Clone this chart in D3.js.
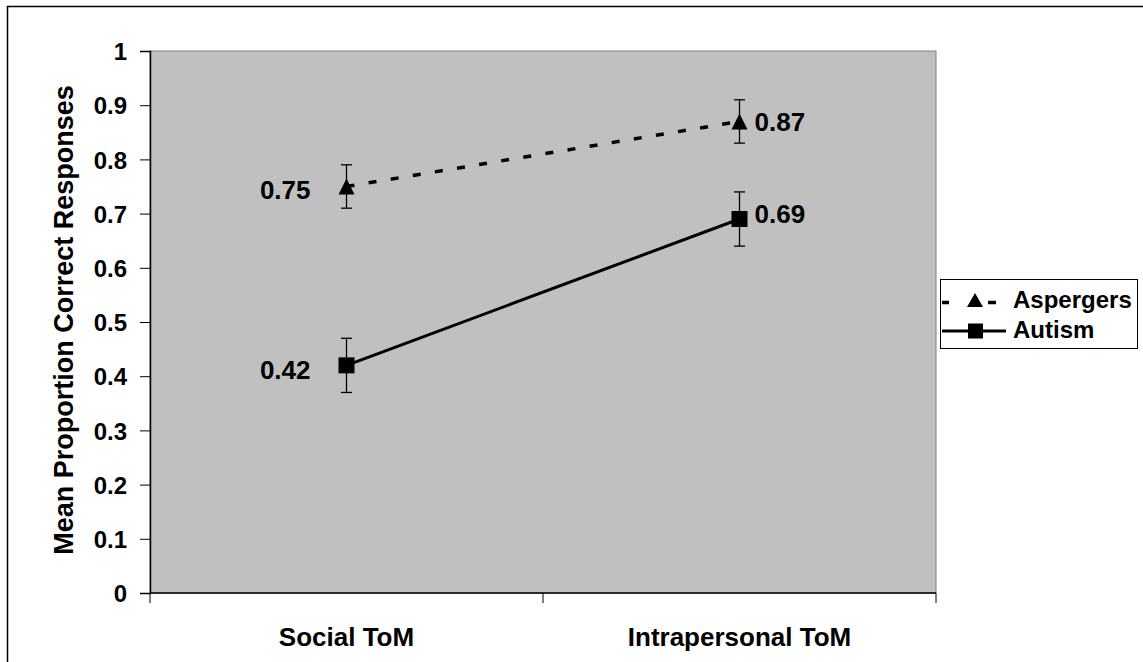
<!DOCTYPE html>
<html><head><meta charset="utf-8">
<script src="https://cdn.jsdelivr.net/npm/d3@7"></script>
<style>body{margin:0;background:#fff}svg{display:block;font-family:Arial,"Liberation Sans",sans-serif;font-weight:bold}</style>
</head><body>
<svg id="c" width="1143" height="662"></svg>
<script>
const categories = ["Social ToM", "Intrapersonal ToM"];
const aspergers = [0.75, 0.87];
const aspergersErr = [0.04, 0.04];
const autism = [0.42, 0.69];
const autismErr = [0.05, 0.05];
const yTicks = [0,0.1,0.2,0.3,0.4,0.5,0.6,0.7,0.8,0.9,1];
const yTickLabels = ["0","0.1","0.2","0.3","0.4","0.5","0.6","0.7","0.8","0.9","1"];

const FONT = "Arial,'Liberation Sans',sans-serif";
const svg = d3.select("#c");
svg.append("rect").attr("x",7.5).attr("y",6.5).attr("width",1150).attr("height",700)
  .attr("fill","#fff").attr("stroke","#000").attr("stroke-width",1.5);

const L=150,R=936,T=51,B=593;
const x = d3.scaleBand().domain(categories).range([L,R]);
const y = d3.scaleLinear().domain([0,1]).range([B,T]);
const cx = d => x(d)+x.bandwidth()/2;

svg.append("rect").attr("x",L).attr("y",T).attr("width",R-L).attr("height",B-T)
  .attr("fill","#c0c0c0").attr("stroke","#808080").attr("stroke-width",1);

// y axis
const ya = svg.append("g").attr("transform",`translate(${L},0)`)
  .call(d3.axisLeft(y).tickValues(yTicks).tickFormat((d,i)=>yTickLabels[i]).tickSize(10).tickPadding(13));
ya.attr("font-size",null).attr("font-family",null);
ya.select(".domain").attr("stroke","#000").attr("stroke-width",1.5);
ya.selectAll("line").attr("stroke","#000").attr("stroke-width",1);
ya.selectAll("text").attr("font-size",24).attr("font-weight","bold").attr("font-family",FONT).attr("fill","#000").attr("dy","0.36em");

// x axis
svg.append("line").attr("x1",L).attr("x2",R).attr("y1",B).attr("y2",B).attr("stroke","#000").attr("stroke-width",1.5);
const xt = [L, ...categories.slice(1).map(c=>x(c)), R];
svg.selectAll(".xt").data(xt).enter().append("line")
  .attr("x1",d=>d).attr("x2",d=>d).attr("y1",B).attr("y2",B+10).attr("stroke","#000");
svg.selectAll(".xl").data(categories).enter().append("text")
  .attr("x",d=>cx(d)).attr("y",646).attr("text-anchor","middle").attr("font-size",26).text(d=>d);

svg.append("text").attr("transform",`translate(73,${(T+B)/2-2}) rotate(-90)`)
  .attr("text-anchor","middle").attr("font-size",27).text("Mean Proportion Correct Responses");

const line = d3.line().x((d,i)=>cx(categories[i])).y(d=>y(d));
svg.append("path").datum(aspergers).attr("d",line).attr("fill","none").attr("stroke","#000")
  .attr("stroke-width",3.5).attr("stroke-dasharray","8,14.4");
svg.append("path").datum(autism).attr("d",line).attr("fill","none").attr("stroke","#000").attr("stroke-width",3);

function errbars(vals, errs){
  vals.forEach((v,i)=>{
    const px=cx(categories[i]);
    const g=svg.append("g").attr("stroke","#000").attr("stroke-width",1.3);
    g.append("line").attr("x1",px).attr("x2",px).attr("y1",y(v+errs[i])).attr("y2",y(v-errs[i]));
    g.append("line").attr("x1",px-5.5).attr("x2",px+5.5).attr("y1",y(v+errs[i])).attr("y2",y(v+errs[i]));
    g.append("line").attr("x1",px-5.5).attr("x2",px+5.5).attr("y1",y(v-errs[i])).attr("y2",y(v-errs[i]));
  });
}
errbars(aspergers, aspergersErr);
errbars(autism, autismErr);

const triPath = "M0,-8L8,8L-8,8Z";
const sqPath = "M-8,-8H8V8H-8Z";
aspergers.forEach((v,i)=>svg.append("path").attr("d",triPath).attr("transform",`translate(${cx(categories[i])},${y(v)})`).attr("fill","#000"));
autism.forEach((v,i)=>svg.append("path").attr("d",sqPath).attr("transform",`translate(${cx(categories[i])},${y(v)})`).attr("fill","#000"));

function labels(vals, dys){
  vals.forEach((v,i)=>{
    const px=cx(categories[i]);
    svg.append("text").attr("x", i===0? px-36 : px+15).attr("y",y(v)+dys[i])
      .attr("text-anchor", i===0?"end":"start").attr("font-size",26).text(v.toFixed(2));
  });
}
labels(aspergers, [12.5, 9.5]); labels(autism, [13.5, 3.5]);

// legend
const lg = svg.append("g");
lg.append("rect").attr("x",940.5).attr("y",279.5).attr("width",197).attr("height",69).attr("fill","#fff").attr("stroke","#000");
[[942,949],[988,996]].forEach(s=>lg.append("line").attr("x1",s[0]).attr("x2",s[1]).attr("y1",302.5).attr("y2",302.5).attr("stroke","#000").attr("stroke-width",3.5));
lg.append("path").attr("d","M0,-7L8,7L-8,7Z").attr("transform","translate(975,300)").attr("fill","#000");
lg.append("text").attr("x",1013).attr("y",307.5).attr("font-size",24).text("Aspergers");
lg.append("line").attr("x1",942).attr("x2",1006).attr("y1",331).attr("y2",331).attr("stroke","#000").attr("stroke-width",3);
lg.append("path").attr("d","M-7.5,-7.5H7.5V7.5H-7.5Z").attr("transform","translate(975.5,331)").attr("fill","#000");
lg.append("text").attr("x",1013).attr("y",338).attr("font-size",24).text("Autism");
</script>
</body></html>
